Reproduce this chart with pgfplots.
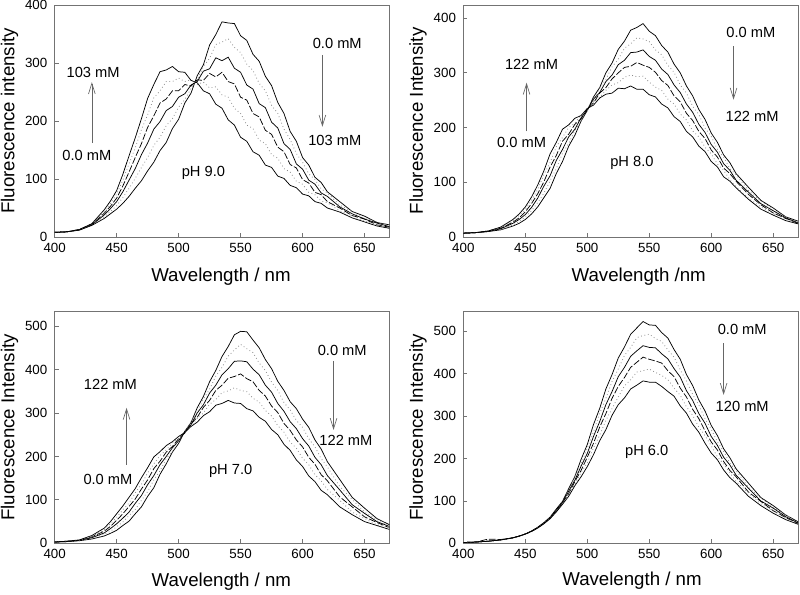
\documentclass[border=0pt]{standalone}
\usepackage{fontspec}
\setmainfont{Liberation Sans}
\usepackage{pgfplots}
\usepackage{pgfplotstable}
\pgfplotsset{compat=1.18}
\usetikzlibrary{arrows.meta}

% pH 9.0 : c0 = 0.0 mM ... c5 = 103 mM
\pgfplotstableread{
x c0 c1 c2 c3 c4 c5
400 8 8 8 8 8 8
410 9 9 9 9 9 9
420 12 12 12 13 13 13
430 20 21 21 22 22 23
440 32 35 38 41 44 47
445 40 44 49 53 58 62
450 48 54 61 67 74 80
455 58 68 78 88 98 108
460 70 84 98 112 126 140
465 84 101 118 137 154 171
470 97 120 142 161 185 204
475 114 137 162 189 211 239
480 129 158 186 209 240 263
485 149 172 199 231 252 285
490 163 192 218 238 268 288
495 187 204 225 252 268 294
500 203 224 241 252 274 285
505 231 237 247 263 268 284
510 248 256 262 260 271 270
515 278 271 268 271 263 266
520 297 294 286 270 267 252
525 331 308 290 282 257 247
530 349 332 309 276 259 229
535 371 336 304 284 245 222
540 369 342 310 268 241 202
545 368 327 291 264 222 193
550 347 318 284 241 213 172
555 339 298 262 236 193 165
560 315 287 255 213 187 147
565 303 265 230 207 167 141
570 277 252 223 184 161 124
575 261 227 198 177 142 120
580 232 213 188 155 136 105
585 213 186 161 147 118 101
590 182 168 151 125 112 89
595 165 144 126 119 96 85
600 137 129 117 99 91 74
605 124 109 98 93 77 71
610 103 99 91 77 73 61
615 94 83 76 73 62 58
620 78 76 70 61 59 50
630 61 55 52 50 45 43
640 44 44 40 37 37 33
650 36 32 31 31 27 26
660 25 26 24 21 22 19
670 21 18 18 17 15 15
}\tblA

% pH 8.0 : c0 = 0.0 mM ... c5 = 122 mM
\pgfplotstableread{
x c0 c1 c2 c3 c4 c5
400 7 7 7 7 7 7
410 8 8 8 8 8 8
420 10 10 10 11 11 11
430 13 14 15 16 17 18
440 20 22 25 27 30 32
445 25 28 32 35 39 42
450 32 37 41 46 50 55
455 42 48 54 61 67 73
460 55 63 71 79 87 95
465 72 80 93 101 114 121
470 89 103 112 128 136 152
475 116 125 140 149 165 173
480 138 153 160 175 182 197
485 166 171 183 188 200 205
490 186 195 197 206 208 217
495 212 211 218 216 223 222
500 231 235 232 234 231 235
505 256 250 252 245 247 241
510 273 272 264 263 255 254
515 300 288 284 273 268 261
520 318 311 296 289 278 263
525 343 325 315 300 282 272
530 358 345 323 310 292 271
535 378 353 337 312 296 276
540 383 364 338 319 293 270
545 390 362 342 314 294 270
550 376 357 330 310 283 260
555 368 342 323 301 274 256
560 350 333 307 286 268 243
565 338 314 297 277 252 236
570 316 301 278 258 243 220
575 300 278 264 247 225 211
580 276 263 243 226 214 193
585 258 239 228 213 194 183
590 233 224 206 193 183 166
595 215 199 191 180 164 156
600 190 184 169 159 152 138
605 173 160 155 146 133 128
610 150 146 134 126 122 110
615 136 125 122 116 105 102
620 116 114 104 102 92 90
630 91 85 82 78 71 69
640 67 66 61 59 55 51
650 53 49 48 44 43 40
660 37 37 35 34 33 30
670 29 27 26 25 25 24
}\tblB

% pH 7.0 : c0 = 0.0 mM ... c5 = 122 mM
\pgfplotstableread{
x c0 c1 c2 c3 c4 c5
400 3 3 3 3 3 3
410 4 4 4 5 5 5
420 6 6 7 7 7 8
430 10 12 13 15 16 18
440 17 21 24 28 31 35
445 23 28 34 39 45 50
450 30 38 45 53 60 68
455 41 49 58 68 77 86
460 51 64 72 85 93 106
465 68 78 92 102 116 126
470 84 99 110 125 136 151
475 108 119 135 146 162 174
480 128 146 156 172 183 199
485 159 167 181 189 202 211
490 183 195 200 210 215 225
495 210 212 220 223 231 234
500 230 237 236 241 241 246
505 258 255 257 254 257 255
510 278 280 273 275 269 269
515 312 302 300 290 288 279
520 338 332 319 313 300 294
525 372 355 346 329 320 303
530 398 385 364 352 331 318
535 430 405 388 364 347 322
540 453 431 402 380 351 329
545 480 445 419 384 358 323
550 488 458 420 390 352 322
555 487 448 418 379 349 310
560 468 439 401 372 334 305
565 450 415 388 352 325 290
570 423 398 364 339 306 281
575 402 371 348 316 293 262
580 373 352 322 301 271 250
585 352 324 304 276 256 228
590 326 307 280 260 233 214
595 310 283 264 238 219 192
600 286 267 241 222 196 177
605 267 241 224 198 181 155
610 238 222 198 182 158 142
615 217 195 181 158 144 122
620 188 176 156 144 124 112
630 147 131 123 107 99 84
640 106 101 89 84 72 66
650 81 72 69 61 57 50
660 57 55 50 48 43 41
670 43 39 39 36 36 32
}\tblC

% pH 6.0 : c0 = 0.0 mM ... c5 = 120 mM
\pgfplotstableread{
x c0 c1 c2 c3 c4 c5
400 2 2 2 2 2 2
410 3 3 3 3 3 3
420 5 5 5 10 5 5
430 8 8 8 9 8 8
440 13 13 13 13 13 13
445 17 17 17 17 17 17
450 22 22 22 22 22 22
455 29 29 29 28 28 28
460 38 38 37 37 36 36
465 49 48 48 47 47 46
470 62 61 60 60 59 58
475 81 79 78 76 75 74
480 99 98 97 96 94 92
485 129 124 123 117 116 111
490 158 156 149 146 139 136
495 198 187 182 172 167 157
500 233 225 212 203 190 181
505 280 263 252 236 225 209
510 318 306 287 274 255 242
515 364 342 327 306 290 268
520 398 382 358 342 318 302
525 437 411 393 370 345 327
530 463 443 415 391 371 343
535 493 462 441 415 386 364
540 508 485 454 427 404 373
545 523 490 466 439 407 383
550 515 493 462 434 411 380
555 514 483 461 430 403 380
560 497 476 447 425 396 370
565 484 456 435 407 386 358
570 457 439 412 393 366 347
575 434 409 392 366 349 324
580 398 383 360 345 322 307
585 372 351 337 316 302 281
590 338 326 306 294 274 262
595 312 294 283 265 254 236
600 278 269 252 239 230 213
605 254 239 231 220 204 197
610 223 217 203 193 187 173
615 202 189 185 172 167 155
620 176 172 161 157 146 142
630 142 132 130 121 119 111
640 108 107 100 99 93 89
650 89 84 83 77 76 71
660 67 67 63 61 60 56
670 51 48 48 47 46 45
}\tblD

\pgfplotsset{
  panel/.style={
    scale only axis, width=251pt, height=174pt,
    xmin=400, xmax=670, ymin=0,
    xtick={400,450,...,650}, ytick distance=100,
    tick align=inside, tick pos=left, major tick length=3pt,
    axis line style={black!55, line width=0.6pt},
    every tick/.style={black!55, line width=0.6pt},
    /pgf/number format/assume math mode=true,
    ticklabel style={font=\fontsize{10}{12}\selectfont},
    x tick label style={yshift=-1pt},
    y tick label style={xshift=-2pt},
    label style={font=\fontsize{14}{16}\selectfont},
    ylabel style={at={(axis description cs:-0.135,0.5)}, anchor=center},
  },
}
\tikzset{
  sol/.style={black, line width=0.55pt},
  dsh/.style={black, line width=0.55pt, dash pattern=on 5pt off 1.5pt},
  dot/.style={black!45, line width=0.6pt, dotted},
  note/.style={font=\fontsize{11}{13}\selectfont},
  arr/.style={black!60, line width=0.5pt, -{Straight Barb[length=8pt,width=5pt]}},
}

\newcommand{\curves}[1]{%
  \addplot[sol] table[x=x,y=c0]{#1};
  \addplot[dot] table[x=x,y=c1]{#1};
  \addplot[sol] table[x=x,y=c2]{#1};
  \addplot[dsh] table[x=x,y=c3]{#1};
  \addplot[dot] table[x=x,y=c4]{#1};
  \addplot[sol] table[x=x,y=c5]{#1};
}

\begin{document}
\begin{tikzpicture}
\useasboundingbox (0,0) rectangle (600pt,-445.5pt);

% pH 9.0
\begin{axis}[panel, at={(41pt,-177.75pt)}, anchor=south west, ymax=400,
  xlabel={Wavelength / nm}, ylabel={Fluorescence intensity},
  xlabel style={at={(axis description cs:0.497,-0.172)}, anchor=center}]
\curves{\tblA}
\node[note] at (axis cs:431,284) {103 mM};
\node[note] at (axis cs:426,141) {0.0 mM};
\draw[arr] (axis cs:430,162) -- (axis cs:430,267);
\node[note] at (axis cs:628,334) {0.0 mM};
\draw[arr] (axis cs:616,314) -- (axis cs:616,190);
\node[note] at (axis cs:626,167) {103 mM};
\node[note] at (axis cs:520,110) {pH 9.0};
\end{axis}

% pH 8.0
\begin{axis}[panel, at={(347.5pt,-177.75pt)}, anchor=south west, ymax=424,
  xlabel={Wavelength /nm}, ylabel={Fluorescence Intensity},
  xlabel style={at={(axis description cs:0.524,-0.173)}, anchor=center}]
\curves{\tblB}
\node[note] at (axis cs:455,316) {122 mM};
\draw[arr] (axis cs:451,193) -- (axis cs:451,282);
\node[note] at (axis cs:447,172) {0.0 mM};
\node[note] at (axis cs:632,374) {0.0 mM};
\draw[arr] (axis cs:618,349) -- (axis cs:618,251);
\node[note] at (axis cs:633,220) {122 mM};
\node[note] at (axis cs:536,136) {pH 8.0};
\end{axis}

% pH 7.0
\begin{axis}[panel, at={(41pt,-407.5pt)}, anchor=south west, ymax=534,
  xlabel={Wavelength / nm}, ylabel={Fluorescence Intensity},
  xlabel style={at={(axis description cs:0.498,-0.167)}, anchor=center}]
\curves{\tblC}
\node[note] at (axis cs:445,365) {122 mM};
\draw[arr] (axis cs:458,181) -- (axis cs:458,312);
\node[note] at (axis cs:443,147) {0.0 mM};
\node[note] at (axis cs:632,445) {0.0 mM};
\draw[arr] (axis cs:625,420) -- (axis cs:625,261);
\node[note] at (axis cs:635,236) {122 mM};
\node[note] at (axis cs:542,167) {pH 7.0};
\end{axis}

% pH 6.0
\begin{axis}[panel, at={(347.5pt,-407.5pt)}, anchor=south west, ymax=547,
  xlabel={Wavelength / nm}, ylabel={Fluorescence Intensity},
  xlabel style={at={(axis description cs:0.504,-0.162)}, anchor=center}]
\curves{\tblD}
\node[note] at (axis cs:625,505) {0.0 mM};
\draw[arr] (axis cs:610,472) -- (axis cs:610,350);
\node[note] at (axis cs:625,322) {120 mM};
\node[note] at (axis cs:548,215) {pH 6.0};
\end{axis}
\end{tikzpicture}
\end{document}
